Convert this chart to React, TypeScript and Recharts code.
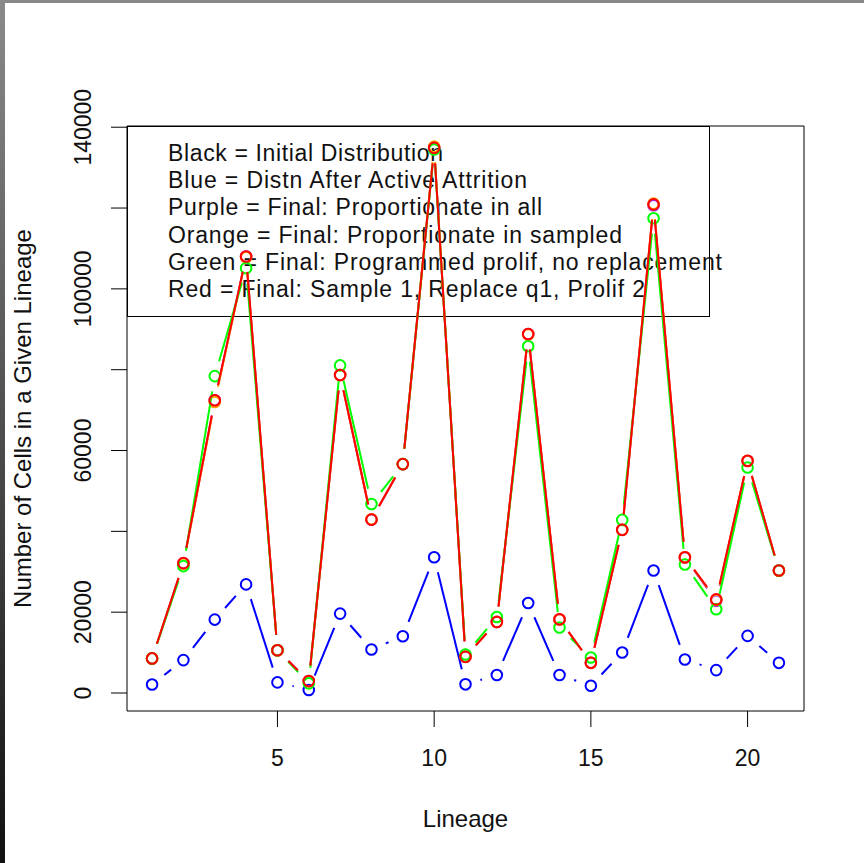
import React from 'react';
import { LineChart, Line, XAxis, YAxis, ReferenceArea, Legend, Label } from 'recharts';

// ---- data ----
const lineage = [1, 2, 3, 4, 5, 6, 7, 8, 9, 10, 11, 12, 13, 14, 15, 16, 17, 18, 19, 20, 21];
const blue = [2100, 8140, 18170, 26880, 2640, 740, 19650, 10780, 14060, 33610, 2150, 4440, 22270, 4440, 1800, 10040, 30330, 8310, 5670, 14130, 7470];
const purple = [8560, 32100, 72400, 108000, 10600, 2950, 78700, 42900, 56640, 134900, 8960, 17600, 88800, 18200, 7480, 40400, 120700, 33500, 22800, 57400, 30330];
const orange = [8560, 32000, 72000, 107800, 10600, 2900, 78700, 43000, 56640, 135200, 9000, 17600, 88700, 18200, 7500, 40400, 121100, 33600, 23000, 57400, 30330];
const green = [8560, 31390, 78420, 105130, 10600, 2390, 81060, 46780, 56640, 134500, 9540, 18820, 85820, 16200, 8800, 42830, 117460, 31810, 20710, 55810, 30300];
const red = [8560, 32130, 72430, 108010, 10600, 2960, 78670, 42910, 56640, 134890, 8950, 17580, 88850, 18250, 7470, 40370, 120910, 33610, 23180, 57460, 30330];

const xTicks = [5, 10, 15, 20];
const yTicks = [0, 20000, 40000, 60000, 80000, 100000, 120000, 140000];
const yLabelled = [0, 20000, 60000, 100000, 140000];

const legendLines = [
  'Black = Initial Distribution',
  'Blue = Distn After Active Attrition',
  'Purple = Final: Proportionate in all',
  'Orange = Final: Proportionate in sampled',
  'Green = Final: Programmed prolif, no replacement',
  'Red = Final: Sample 1, Replace q1, Prolif 2',
];
const legendWidths = [275, 359, 374, 454, 554, 477];

const data = lineage.map((l, i) => ({
  lineage: l,
  blue: blue[i],
  purple: purple[i],
  orange: orange[i],
  green: green[i],
  red: red[i],
}));

const series = [
  { key: 'blue', color: '#0000FF' },
  { key: 'purple', color: '#A020F0' },
  { key: 'orange', color: '#FFA500' },
  { key: 'green', color: '#00FF00' },
  { key: 'red', color: '#FF0000' },
];

const FONT = '"Liberation Sans", Arial, Helvetica, sans-serif';
const GAP = 15.5;
const X_DOMAIN: [number, number] = [0.2, 21.8];
const Y_DOMAIN: [number, number] = [-4450, 140300];

function makeDot(color: string) {
  return (props: any) => {
    const { cx, cy, index, points } = props;
    const k = `dot-${index}`;
    if (cx == null || cy == null) return <g key={k} />;
    let seg: React.ReactNode = null;
    const next = points && points[index + 1];
    if (next && next.x != null && next.y != null) {
      const dx = next.x - cx;
      const dy = next.y - cy;
      const d = Math.hypot(dx, dy);
      if (d > 2 * GAP) {
        const ux = dx / d;
        const uy = dy / d;
        seg = (
          <line
            x1={cx + ux * GAP}
            y1={cy + uy * GAP}
            x2={next.x - ux * GAP}
            y2={next.y - uy * GAP}
            stroke={color}
            strokeWidth={2}
          />
        );
      }
    }
    return (
      <g key={k}>
        {seg}
        <circle cx={cx} cy={cy} r={5.3} fill="none" stroke={color} strokeWidth={2} />
      </g>
    );
  };
}

const YTick = (props: any) => {
  const { x, y, payload } = props;
  if (!yLabelled.includes(payload.value)) return <g />;
  const lx = x - 26;
  return (
    <text
      x={lx}
      y={y}
      transform={`rotate(-90, ${lx}, ${y})`}
      textAnchor="middle"
      dominantBaseline="central"
      fontFamily={FONT}
      fontSize={23}
      fill="#111"
    >
      {payload.value}
    </text>
  );
};

const XTick = (props: any) => {
  const { x, y, payload } = props;
  return (
    <text
      x={x}
      y={y + 29}
      textAnchor="middle"
      dominantBaseline="central"
      fontFamily={FONT}
      fontSize={23}
      fill="#111"
    >
      {payload.value}
    </text>
  );
};

const LegendBox = () => (
  <svg width={583} height={191} style={{ display: 'block', overflow: 'visible' }}>
    <rect x={0.5} y={0.5} width={582} height={190} fill="#fff" stroke="#000" strokeWidth={1} />
    {legendLines.map((t, i) => (
      <text
        key={t}
        x={41}
        y={27 + i * 27.2}
        dominantBaseline="central"
        fontFamily={FONT}
        fontSize={23}
        fill="#111"
        textLength={legendWidths[i]}
        lengthAdjust="spacing"
      >
        {t}
      </text>
    ))}
  </svg>
);

export default function App() {
  return (
    <div style={{ position: 'absolute', left: 0, top: 0, width: 864, height: 863, background: '#fff', zIndex: 0 }}>
      <LineChart
        width={864}
        height={863}
        data={data}
        margin={{ top: 126, right: 60, bottom: 0, left: 0 }}
      >
        <XAxis
          dataKey="lineage"
          type="number"
          domain={X_DOMAIN}
          ticks={xTicks}
          allowDataOverflow
          height={152}
          tickSize={16}
          tickMargin={2}
          axisLine={false}
          tickLine={{ stroke: '#000', strokeWidth: 1 }}
          tick={<XTick />}
        >
          <Label
            content={(p: any) => {
              const vb = p.viewBox || { x: 127, y: 711, width: 677, height: 152 };
              return (
                <text
                  x={vb.x + vb.width / 2}
                  y={vb.y + 107}
                  textAnchor="middle"
                  dominantBaseline="central"
                  fontFamily={FONT}
                  fontSize={24}
                  fill="#111"
                >
                  Lineage
                </text>
              );
            }}
          />
        </XAxis>
        <YAxis
          type="number"
          domain={Y_DOMAIN}
          ticks={yTicks}
          allowDataOverflow
          width={127}
          tickSize={16}
          tickMargin={2}
          axisLine={false}
          tickLine={{ stroke: '#000', strokeWidth: 1 }}
          tick={<YTick />}
        >
          <Label
            content={(p: any) => {
              const vb = p.viewBox || { x: 0, y: 126, width: 127, height: 585 };
              const cx = vb.x + 22;
              const cy = vb.y + vb.height / 2;
              return (
                <text
                  x={cx}
                  y={cy}
                  transform={`rotate(-90, ${cx}, ${cy})`}
                  textAnchor="middle"
                  dominantBaseline="central"
                  fontFamily={FONT}
                  fontSize={24}
                  fill="#111"
                >
                  Number of Cells in a Given Lineage
                </text>
              );
            }}
          />
        </YAxis>
        <Legend
          layout="horizontal"
          verticalAlign="middle"
          align="center"
          wrapperStyle={{ left: 127, top: 126, width: 583, height: 191, zIndex: -1 }}
          content={() => <LegendBox />}
        />
        <ReferenceArea
          x1={X_DOMAIN[0]}
          x2={X_DOMAIN[1]}
          y1={Y_DOMAIN[0]}
          y2={Y_DOMAIN[1]}
          fill="none"
          fillOpacity={0}
          stroke="#000"
          strokeWidth={1}
          ifOverflow="extendDomain"
        />
        {series.map((s) => (
          <Line
            key={s.key}
            dataKey={s.key}
            stroke="none"
            isAnimationActive={false}
            dot={makeDot(s.color)}
            activeDot={false}
          />
        ))}
      </LineChart>
      <div style={{ position: 'absolute', left: 0, top: 0, width: 864, height: 3, background: '#888', zIndex: 10 }} />
      <div
        style={{
          position: 'absolute',
          left: 0,
          top: 0,
          width: 5,
          height: 863,
          background: 'linear-gradient(#8a8a8a, #111)',
          zIndex: 10,
        }}
      />
    </div>
  );
}
